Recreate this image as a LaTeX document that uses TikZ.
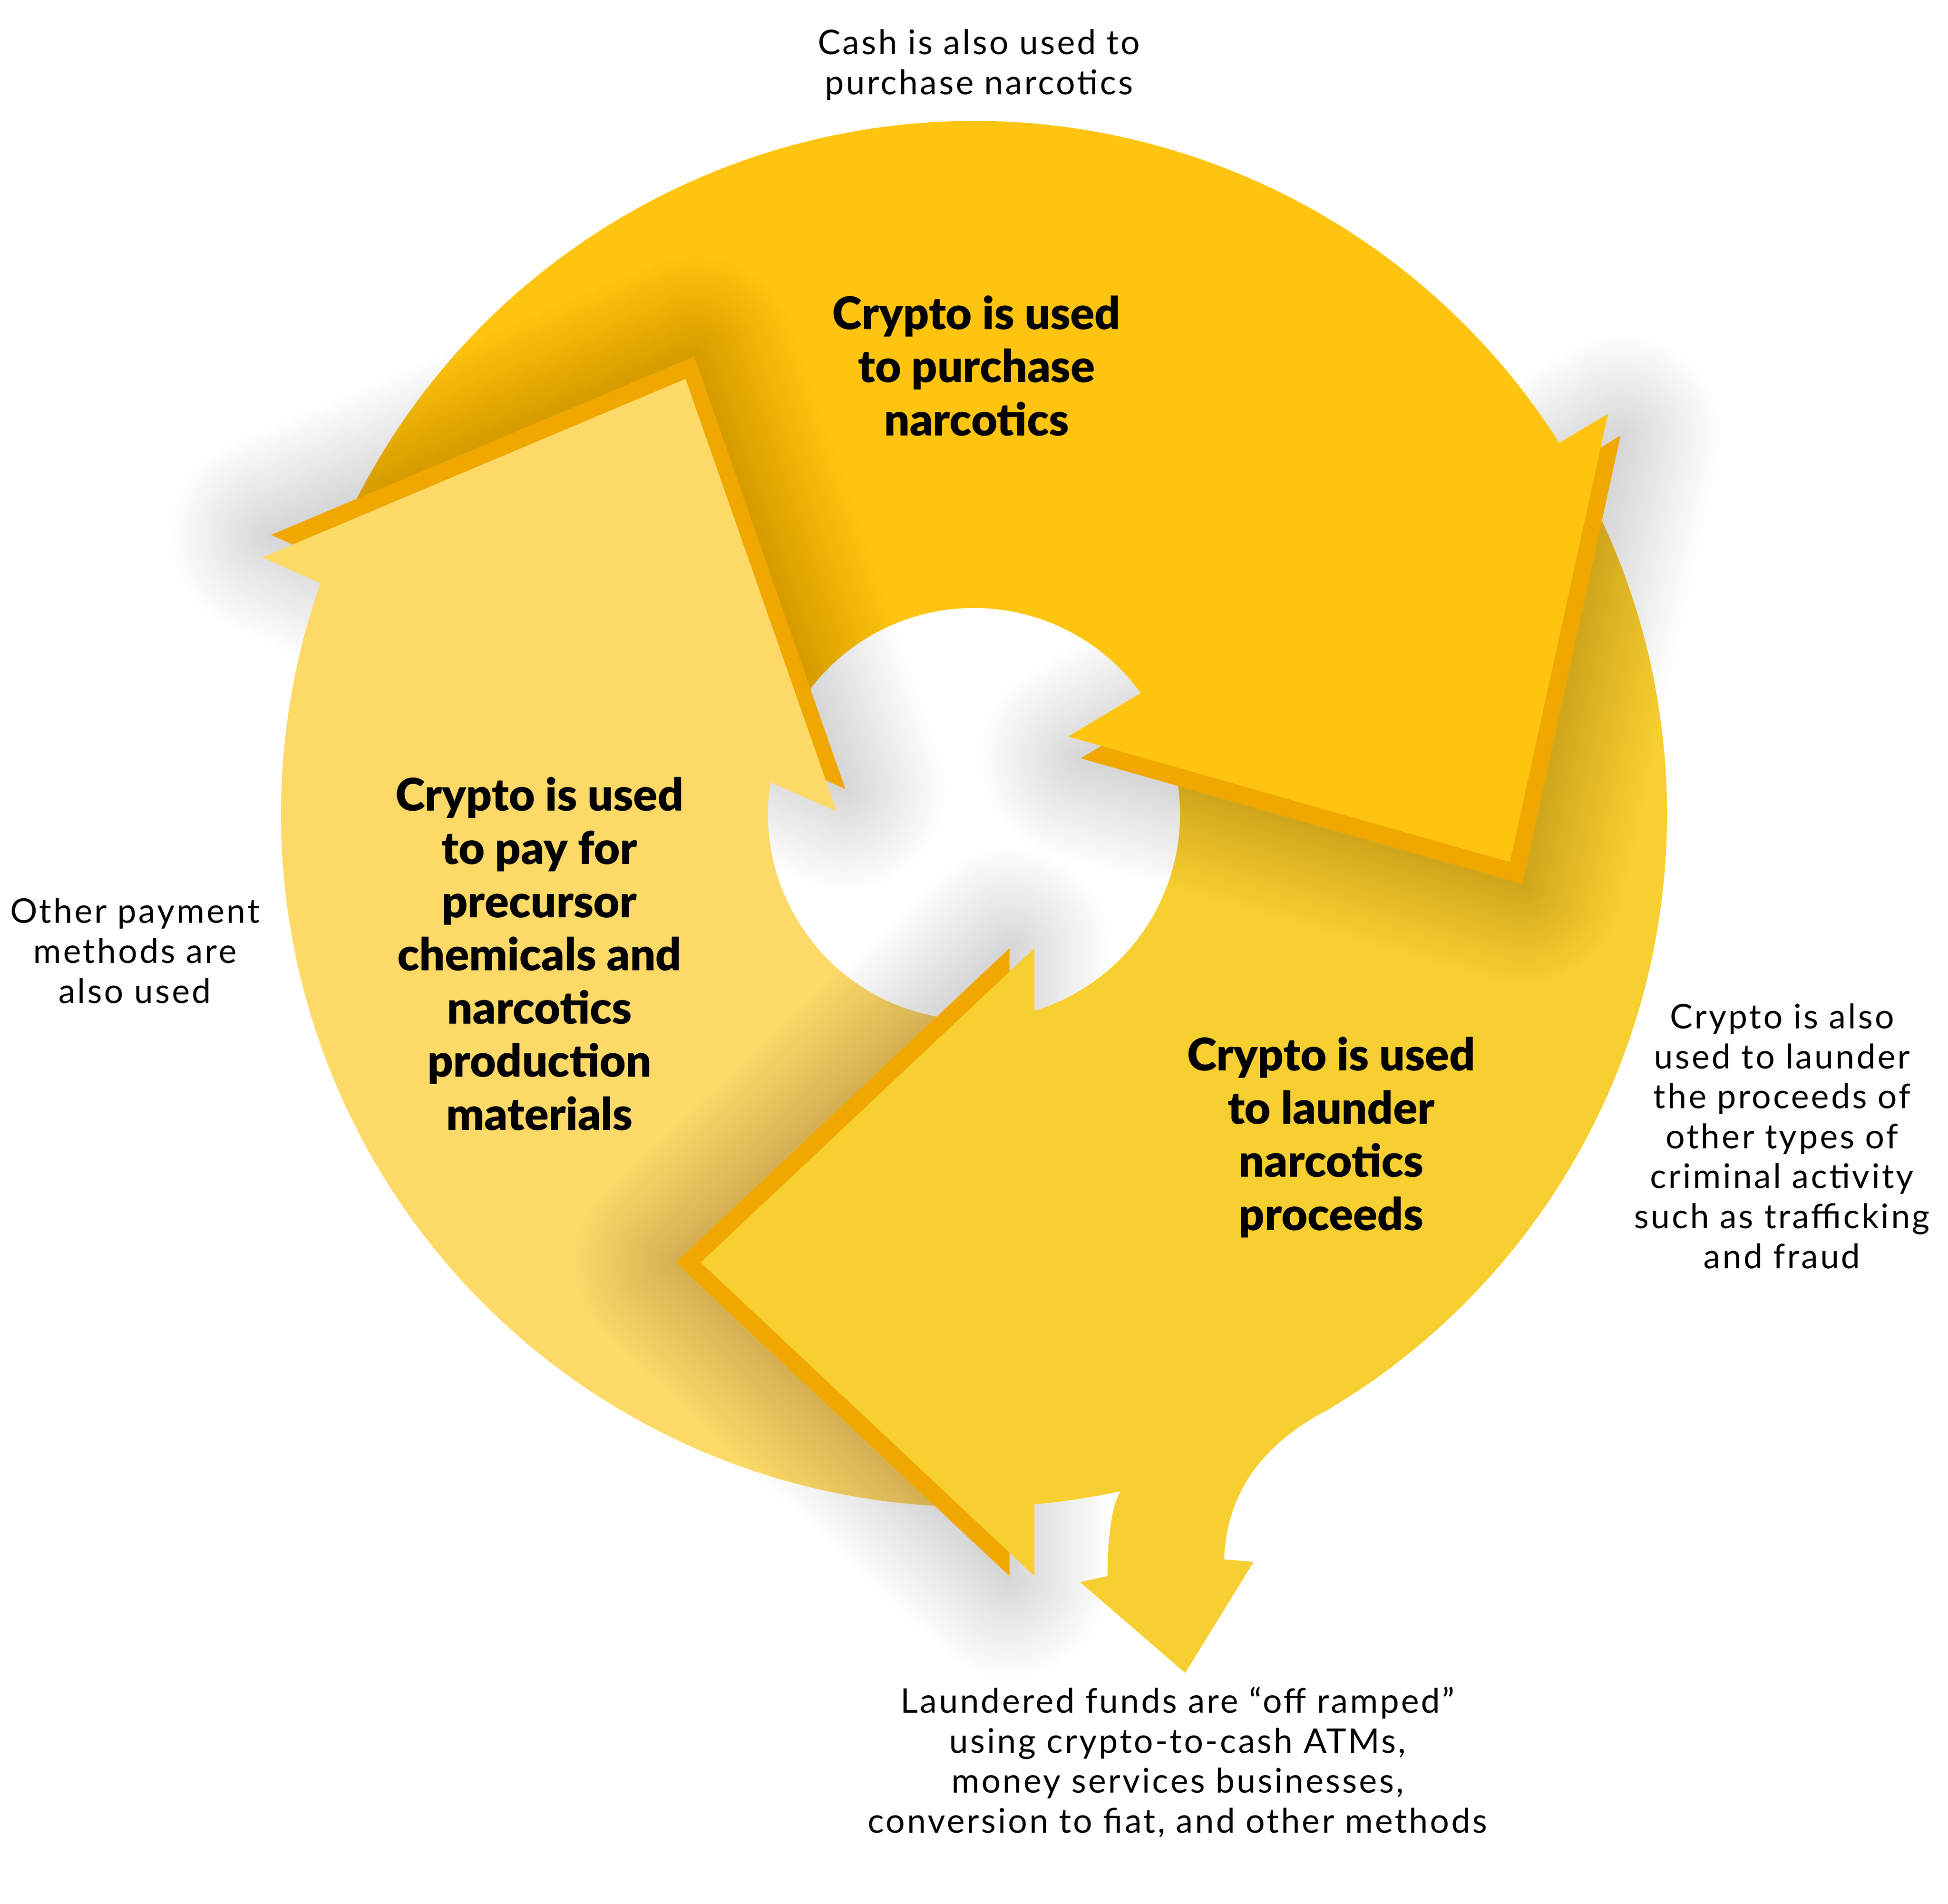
\documentclass[tikz,border=0pt]{standalone}
\usepackage{fontspec}
\setmainfont{Lato}[BoldFont={Lato Black}]
\newfontfamily\notefont{Lato}[LetterSpace=6.0]

\definecolor{toparrow}{RGB}{254,196,15}
\definecolor{leftarrow}{RGB}{253,217,104}
\definecolor{lowarrow}{RGB}{248,207,48}
\definecolor{headedge}{RGB}{240,168,0}

% ring pieces (all run clockwise)
\newcommand\topring{(159:555) arc[start angle=159,end angle=31,radius=555] -- (34:165) arc[start angle=34,end angle=169,radius=165] -- cycle}
\newcommand\leftring{(273:555) arc[start angle=273,end angle=159,radius=555] -- (169:165) arc[start angle=169,end angle=285,radius=165] -- cycle}
\newcommand\lowring{(31:555) arc[start angle=31,end angle=-59.3,radius=555] .. controls (230,-505) and (202,-545) .. (200.3,-597) -- (224,-599) -- (169.1,-688) -- (85,-615.3) -- (106.9,-610.4) .. controls (107,-580) and (110,-555) .. (-77.8:555) arc[start angle=-77.8,end angle=-87,radius=555] -- (-75:165) arc[start angle=-75,end angle=34,radius=165] -- cycle}
\newcommand\outframe{(-800,-900) -- (800,-900) -- (800,700) -- (-800,700) -- cycle}

\begin{document}
\begin{tikzpicture}[x=0.5pt,y=0.5pt,
    bigtext/.style={align=center,font=\fontsize{18}{21.3}\selectfont\bfseries},
    notetext/.style={align=center,font=\notefont\fontsize{13.6}{16}\selectfont},
    headshadow/.style={black,opacity=0.006,line join=round}]
        \useasboundingbox (-780,-873) rectangle (780,652);
        \fill[white] (-780,-873) rectangle (780,652);
        \fill[toparrow] \topring;
        \fill[leftarrow] \leftring;
        \fill[lowarrow] \lowring;

        % heads, shadow kept off their own ring piece
        \begin{scope}
            \clip \outframe \topring;
            \foreach \w in {4,8,...,80}
                \draw[headshadow,line width=\w pt,shift={(10,-17.5)}] (507.8,320.6) -- (429.2,-38.5) -- (75.4,62.1) -- cycle;
        \end{scope}
        \fill[headedge,shift={(10,-17.5)}] (507.8,320.6) -- (429.2,-38.5) -- (75.4,62.1) -- cycle;
        \fill[toparrow] (507.8,320.6) -- (429.2,-38.5) -- (75.4,62.1) -- cycle;
        \begin{scope}
            \clip \outframe \leftring;
            \foreach \w in {4,8,...,80}
                \draw[headshadow,line width=\w pt,shift={(7,18)}] (-570,205.5) -- (-231,348.5) -- (-110,2) -- cycle;
        \end{scope}
        \fill[headedge,shift={(7,18)}] (-570,205.5) -- (-231,348.5) -- (-110,2) -- cycle;
        \fill[leftarrow] (-570,205.5) -- (-231,348.5) -- (-110,2) -- cycle;
        \begin{scope}
            \clip \outframe \lowring;
            \foreach \w in {4,8,...,80}
                \draw[headshadow,line width=\w pt,shift={(-20,0)}] (48.4,-107.5) -- (-218.8,-359.2) -- (48.4,-610.4) -- cycle;
        \end{scope}
        \fill[headedge,shift={(-20,0)}] (48.4,-107.5) -- (-218.8,-359.2) -- (48.4,-610.4) -- cycle;
        \fill[lowarrow] (48.4,-107.5) -- (-218.8,-359.2) -- (48.4,-610.4) -- cycle;

        \node[bigtext] (buytext) at (2,359) {Crypto is used\\to purchase\\narcotics};
        \node[bigtext] (paytext) at (-348,-112) {Crypto is used\\to pay for\\precursor\\chemicals and\\narcotics\\production\\materials};
        \node[bigtext] (launtext) at (286,-259) {Crypto is used\\to launder\\narcotics\\proceeds};

        \node[notetext] (cashnote) at (4,600) {Cash is also used to\\purchase narcotics};
        \node[notetext] (othernote) at (-672,-109.5) {Other payment\\methods are\\also used};
        \node[notetext] (alsonote) at (647,-258) {Crypto is also\\used to launder\\the proceeds of\\other types of\\criminal activity\\such as trafficking\\and fraud};
        \node[notetext] (offnote) at (163,-759.5) {Laundered funds are “off ramped”\\using crypto-to-cash ATMs,\\money services businesses,\\conversion to fiat, and other methods};
    \end{tikzpicture}
\end{document}
